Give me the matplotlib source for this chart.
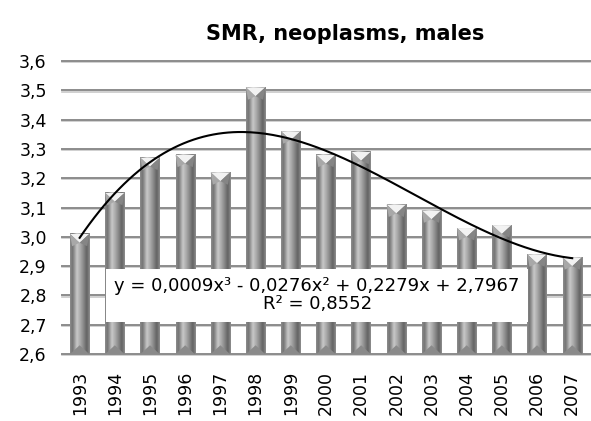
import numpy as np
import matplotlib
matplotlib.use('Agg')
import matplotlib.pyplot as plt
from matplotlib.colors import LinearSegmentedColormap
from matplotlib.patches import Polygon

plt.rcParams['font.family'] = ['DejaVu Sans']

years = ['1993', '1994', '1995', '1996', '1997', '1998', '1999', '2000',
         '2001', '2002', '2003', '2004', '2005', '2006', '2007']
smr = [3.01, 3.15, 3.27, 3.28, 3.22, 3.51, 3.36, 3.28,
       3.29, 3.11, 3.09, 3.03, 3.04, 2.94, 2.93]
y_ticks = [2.6, 2.7, 2.8, 2.9, 3.0, 3.1, 3.2, 3.3, 3.4, 3.5, 3.6]

ymin, ymax = 2.6, 3.6

fig = plt.figure(figsize=(5.91, 4.21), dpi=100)
ax = fig.add_axes([0.105, 0.159, 0.893, 0.696])
ax.set_xlim(-0.5, len(years) - 0.5)
ax.set_ylim(ymin, ymax)

# horizontal gridlines with a soft shadow
for t in y_ticks:
    ax.axhline(t - 0.004, color='#c8c8c8', lw=1.2, zorder=0.5, clip_on=False)
    ax.axhline(t, color='#8c8c8c', lw=1.4, zorder=0.6, clip_on=False)

# cylinder-like bars
cyl = LinearSegmentedColormap.from_list('cyl', [
    (0.0, '#8c8c8c'), (0.12, '#747474'), (0.35, '#c8c8c8'),
    (0.55, '#a4a4a4'), (0.85, '#636363'), (1.0, '#8e8e8e')])
grad = np.linspace(0, 1, 64).reshape(1, -1)
w = 0.55
cap = 0.03
for i, v in enumerate(smr):
    x0, x1 = i - w / 2, i + w / 2
    ax.imshow(grad, cmap=cyl, extent=[x0, x1, ymin, v], aspect='auto',
              interpolation='bilinear', zorder=2)
    # top bevel
    ax.add_patch(Polygon([(x0, v), (x1, v), (i, v - cap)], closed=True,
                         facecolor='#f2f2f2', edgecolor='none', zorder=3))
    ax.add_patch(Polygon([(x0, v), (i, v - cap), (x0 + 0.06, v - cap * 1.4)],
                         closed=True, facecolor='#a8a8a8', edgecolor='none', zorder=3))
    ax.add_patch(Polygon([(x1, v), (i, v - cap), (x1 - 0.06, v - cap * 1.4)],
                         closed=True, facecolor='#858585', edgecolor='none', zorder=3))
    # bottom bevel
    ax.add_patch(Polygon([(x0, ymin), (x1, ymin), (i, ymin + cap)], closed=True,
                         facecolor='#8a8a8a', edgecolor='none', zorder=3))

# cubic trendline fitted to the series (x = 1..15)
xn = np.arange(1, len(smr) + 1)
coef = np.polyfit(xn, smr, 3)
xs = np.linspace(1, len(smr), 200)
ax.plot(xs - 1, np.polyval(coef, xs), color='black', lw=1.5, zorder=4)

eq = 'y = 0,0009x³ - 0,0276x² + 0,2279x + 2,7967\nR² = 0,8552'
ax.text(6.75, 2.80, eq, ha='center', va='center', fontsize=13,
        linespacing=1.0, zorder=5,
        bbox=dict(facecolor='white', edgecolor='none', pad=6))

ax.set_yticks(y_ticks)
ax.set_yticklabels([f'{t:.1f}'.replace('.', ',') for t in y_ticks], fontsize=12.5)
ax.set_xticks(range(len(years)))
ax.set_xticklabels(years, rotation=90, fontsize=12.5)
ax.tick_params(length=0)
ax.tick_params(axis='y', pad=11)
ax.tick_params(axis='x', pad=12)
for s in ax.spines.values():
    s.set_visible(False)

fig.text(0.584, 0.92, 'SMR, neoplasms, males', ha='center', va='center',
         fontsize=15, fontweight='bold')

fig.savefig('out.png', dpi=100)
